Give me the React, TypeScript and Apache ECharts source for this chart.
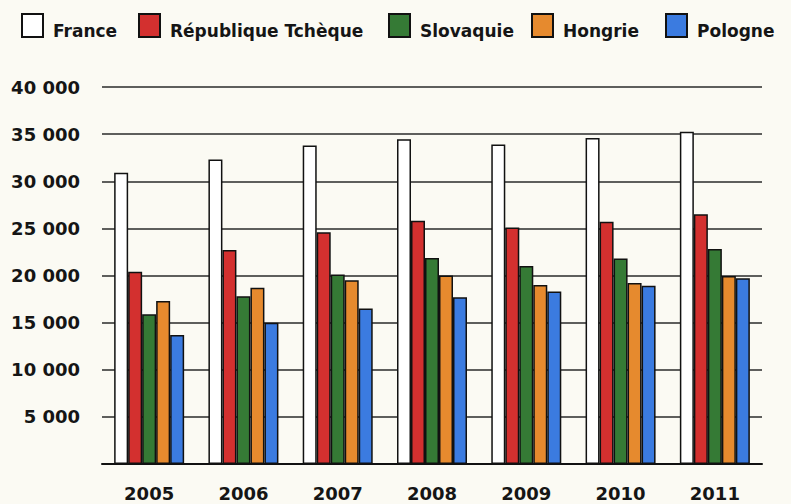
import React, { useEffect, useRef } from "react";
import * as echarts from "echarts";

const years = ["2005", "2006", "2007", "2008", "2009", "2010", "2011"];
const seriesNames = ["France", "République Tchèque", "Slovaquie", "Hongrie", "Pologne"];
const france = [30900, 32300, 33800, 34450, 33900, 34600, 35250];
const tcheque = [20400, 22700, 24600, 25800, 25100, 25700, 26500];
const slovaquie = [15900, 17800, 20100, 21850, 21000, 21800, 22800];
const hongrie = [17300, 18700, 19500, 20000, 19000, 19200, 19950];
const pologne = [13700, 15000, 16500, 17700, 18300, 18900, 19700];
const colors = ["#ffffff", "#d3302f", "#357a35", "#e68a2e", "#3b7be0"];
const yTicks = [0, 5000, 10000, 15000, 20000, 25000, 30000, 35000, 40000];
const legendLefts = [21, 138, 388, 531, 665];

const FONT = "DejaVu Sans";

export default function App() {
  const ref = useRef<HTMLDivElement>(null);
  useEffect(() => {
    if (!ref.current) return;
    const chart = echarts.init(ref.current, null, { renderer: "svg" });
    const data = [france, tcheque, slovaquie, hongrie, pologne];
    chart.setOption({
      animation: false,
      backgroundColor: "#fbfaf3",
      textStyle: { fontFamily: FONT },
      legend: seriesNames.map((name, i) => ({
        top: 13,
        left: legendLefts[i],
        padding: 0,
        itemWidth: 21,
        itemHeight: 23,
        icon: "rect",
        formatter: (n: string) => "{t|" + n + "}",
        textStyle: {
          fontFamily: FONT,
          fontWeight: "bold",
          fontSize: 17,
          color: "#151515",
          rich: {
            t: { fontFamily: FONT, fontWeight: "bold", fontSize: 17, color: "#151515", padding: [10, 0, 0, 5] },
          },
        },
        data: [name],
      })),
      grid: { left: 102, right: 29, top: 87, bottom: 40, containLabel: false },
      xAxis: {
        type: "category",
        data: years,
        axisLine: { lineStyle: { color: "#111", width: 2 } },
        axisTick: { show: false },
        axisLabel: { fontFamily: FONT, fontWeight: "bold", fontSize: 18, color: "#151515", margin: 20 },
      },
      yAxis: {
        type: "value",
        min: yTicks[0],
        max: yTicks[yTicks.length - 1],
        interval: 5000,
        axisLine: { show: false },
        axisTick: { show: false },
        splitLine: { lineStyle: { color: "#2a2a2a", width: 1.5 } },
        axisLabel: {
          fontFamily: FONT,
          fontWeight: "bold",
          fontSize: 18,
          color: "#151515",
          margin: 22,
          formatter: (v: number) => (v === 0 ? "" : String(v).replace(/\B(?=(\d{3})+(?!\d))/g, " ")),
        },
      },
      series: seriesNames.map((name, i) => ({
        name,
        type: "bar",
        data: data[i],
        barWidth: 14,
        barGap: "0%",
        itemStyle: { color: colors[i], borderColor: "#111", borderWidth: 1.5 },
      })),
    });
    return () => chart.dispose();
  }, []);
  return <div ref={ref} style={{ position: "fixed", left: 0, top: 0, width: 791, height: 504 }} />;
}
